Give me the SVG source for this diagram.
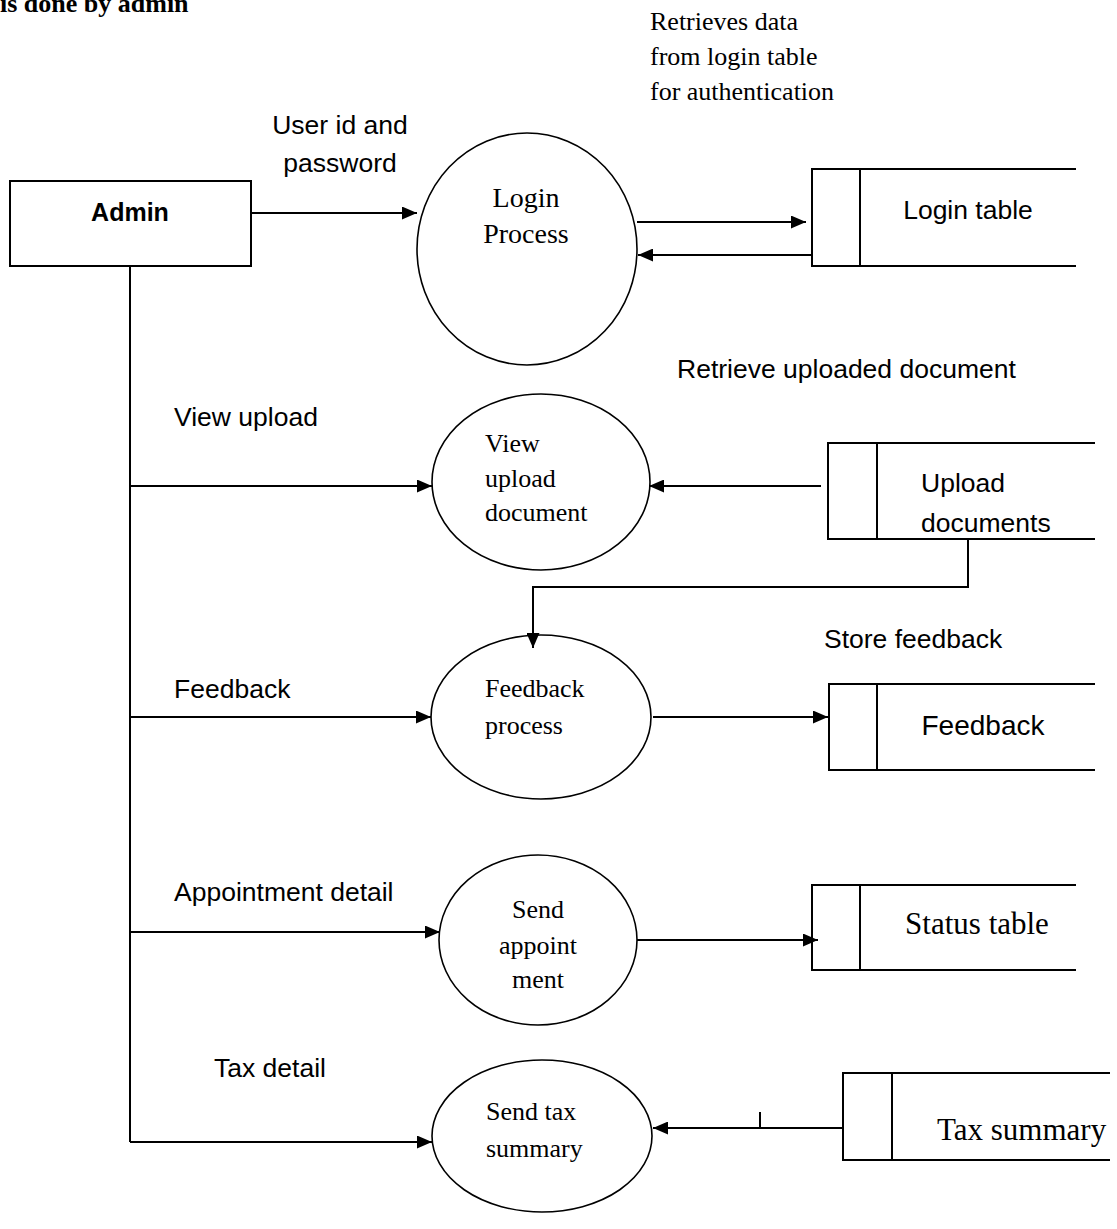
<svg xmlns="http://www.w3.org/2000/svg" width="1117" height="1229" viewBox="0 0 1117 1229">
<style>
.bg{fill:#fff}
.proc{fill:none;stroke:#000;stroke-width:1.6}
.box{fill:none;stroke:#000;stroke-width:2}
.store{fill:none;stroke:#000;stroke-width:2}
.flow{fill:none;stroke:#000;stroke-width:2}
.sans{font-family:"Liberation Sans",Arial,sans-serif;font-size:26.5px;fill:#000}
.serif{font-family:"Liberation Serif","Times New Roman",serif;font-size:26px;fill:#000}
</style>
<defs>
<marker id="ah" markerWidth="15" markerHeight="13" refX="15" refY="6.5" orient="auto" markerUnits="userSpaceOnUse"><path d="M0,0 L15,6.5 L0,13 z" fill="#000"/></marker>
</defs>
<rect class="bg" x="0" y="0" width="1117" height="1229"/>
<text class="serif" x="0" y="12" style="font-weight:bold">is done by admin</text>
<text class="serif" x="650" y="30">Retrieves data</text>
<text class="serif" x="650" y="65">from login table</text>
<text class="serif" x="650" y="100">for authentication</text>

<g id="connectors">
<path class="flow" d="M251,213 H417" marker-end="url(#ah)"/>
<path class="flow" d="M637,222 H806" marker-end="url(#ah)"/>
<path class="flow" d="M812,255 H638" marker-end="url(#ah)"/>
<path class="flow" d="M130,266 V1142"/>
<path class="flow" d="M130,486 H432" marker-end="url(#ah)"/>
<path class="flow" d="M821,486 H649" marker-end="url(#ah)"/>
<path class="flow" d="M968,540 V587 H533 V648" marker-end="url(#ah)"/>
<path class="flow" d="M130,717 H431" marker-end="url(#ah)"/>
<path class="flow" d="M653,717 H828" marker-end="url(#ah)"/>
<path class="flow" d="M130,932 H440" marker-end="url(#ah)"/>
<path class="flow" d="M637,940 H818" marker-end="url(#ah)"/>
<path class="flow" d="M130,1142 H432" marker-end="url(#ah)"/>
<path class="flow" d="M843,1128 H653" marker-end="url(#ah)"/>
<path class="flow" d="M760,1112 V1128"/>
<text class="sans" x="340" y="134" text-anchor="middle">User id and</text>
<text class="sans" x="340" y="172" text-anchor="middle">password</text>
<text class="sans" x="677" y="378">Retrieve uploaded document</text>
<text class="sans" x="174" y="426">View upload</text>
<text class="sans" x="824" y="648">Store feedback</text>
<text class="sans" x="174" y="698">Feedback</text>
<text class="sans" x="174" y="901">Appointment detail</text>
<text class="sans" x="214" y="1077">Tax detail</text>
</g>

<g id="admin">
<rect class="box" x="10" y="181" width="241" height="85"/>
<text class="sans" x="130" y="221" text-anchor="middle" style="font-weight:bold;font-size:25px">Admin</text>
</g>

<g id="login-process">
<ellipse class="proc" cx="527" cy="249" rx="110" ry="116"/>
<text class="serif" x="526" y="207" text-anchor="middle" style="font-size:28px">Login</text>
<text class="serif" x="526" y="243" text-anchor="middle" style="font-size:28px">Process</text>
</g>

<g id="login-table">
<path class="store" d="M1076,169 H812 V266 H1076 M860,169 V266"/>
<text class="sans" x="968" y="219" text-anchor="middle">Login table</text>
</g>

<g id="view-upload">
<ellipse class="proc" cx="541" cy="482" rx="109" ry="88"/>
<text class="serif" x="485" y="452">View</text>
<text class="serif" x="485" y="487">upload</text>
<text class="serif" x="485" y="521">document</text>
</g>

<g id="upload-documents">
<path class="store" d="M1095,443 H828 V539 H1095 M877,443 V539"/>
<text class="sans" x="921" y="492">Upload</text>
<text class="sans" x="921" y="532">documents</text>
</g>

<g id="feedback-process">
<ellipse class="proc" cx="541" cy="717" rx="110" ry="82"/>
<text class="serif" x="485" y="697">Feedback</text>
<text class="serif" x="485" y="734">process</text>
</g>

<g id="feedback-store">
<path class="store" d="M1095,684 H829 V770 H1095 M877,684 V770"/>
<text class="sans" x="983" y="735" text-anchor="middle" style="font-size:28px">Feedback</text>
</g>

<g id="send-appointment">
<ellipse class="proc" cx="538" cy="940" rx="99" ry="85"/>
<text class="serif" x="538" y="918" text-anchor="middle">Send</text>
<text class="serif" x="538" y="954" text-anchor="middle">appoint</text>
<text class="serif" x="538" y="988" text-anchor="middle">ment</text>
</g>

<g id="status-table">
<path class="store" d="M1076,885 H812 V970 H1076 M860,885 V970"/>
<text class="serif" x="977" y="934" text-anchor="middle" style="font-size:31px">Status table</text>
</g>

<g id="send-tax-summary">
<ellipse class="proc" cx="542" cy="1136" rx="110" ry="76"/>
<text class="serif" x="486" y="1120">Send tax</text>
<text class="serif" x="486" y="1157">summary</text>
</g>

<g id="tax-summary">
<path class="store" d="M1110,1073 H843 V1160 H1110 M892,1073 V1160"/>
<text class="serif" x="937" y="1140" style="font-size:31px">Tax summary</text>
</g>
</svg>
